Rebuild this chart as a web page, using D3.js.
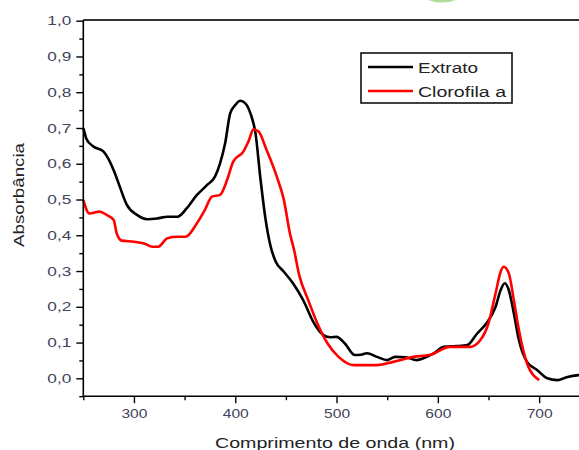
<!DOCTYPE html>
<html>
<head>
<meta charset="utf-8">
<script src="https://cdn.jsdelivr.net/npm/d3@7"></script>
<style>
  html, body { margin: 0; padding: 0; background: #fff; }
  svg { display: block; }
</style>
</head>
<body>
<svg id="chart" width="579" height="450"></svg>
<script>
// ---- Data ----
const extratoWl = [250, 251, 253, 260, 270, 280, 286, 293, 303, 313, 323, 333, 343, 352, 362, 372, 380, 385, 390, 395, 400, 405, 410, 415, 420, 425, 430, 435, 440, 448, 457, 467, 477, 487, 494, 500, 508, 518, 524, 530, 540, 550, 558, 568, 579, 596, 606, 618, 629, 639, 648, 657, 662, 666, 670, 675, 680, 688, 698, 708, 718, 728, 739, 745];
const extratoAbs = [0.70, 0.69, 0.67, 0.648, 0.634, 0.582, 0.536, 0.485, 0.457, 0.445, 0.447, 0.452, 0.452, 0.475, 0.512, 0.54, 0.564, 0.601, 0.657, 0.741, 0.764, 0.776, 0.769, 0.741, 0.685, 0.555, 0.443, 0.368, 0.326, 0.298, 0.266, 0.219, 0.158, 0.121, 0.115, 0.116, 0.098, 0.065, 0.066, 0.07, 0.06, 0.051, 0.06, 0.059, 0.051, 0.07, 0.088, 0.09, 0.093, 0.126, 0.154, 0.2, 0.247, 0.266, 0.247, 0.182, 0.107, 0.046, 0.023, 0.0, -0.005, 0.004, 0.009, 0.01];

const clorofilaWl = [250, 256, 266, 273, 280, 283, 288, 300, 310, 318, 324, 333, 343, 351, 362, 370, 377, 385, 392, 398, 408, 413, 418, 423, 431, 441, 448, 454, 458, 463, 472, 481, 491, 502, 517, 540, 556, 576, 592, 612, 632, 642, 650, 657, 662, 665, 670, 675, 680, 688, 700];
const clorofilaAbs = [0.499, 0.461, 0.466, 0.457, 0.443, 0.405, 0.385, 0.382, 0.377, 0.368, 0.368, 0.392, 0.396, 0.396, 0.433, 0.471, 0.508, 0.513, 0.555, 0.606, 0.634, 0.662, 0.696, 0.69, 0.638, 0.564, 0.499, 0.405, 0.36, 0.29, 0.219, 0.154, 0.098, 0.06, 0.037, 0.037, 0.046, 0.06, 0.065, 0.088, 0.088, 0.107, 0.154, 0.238, 0.298, 0.312, 0.294, 0.219, 0.135, 0.042, -0.005];

const xMajorTicks = [300, 400, 500, 600, 700];
const xMinorTicks = [250, 350, 450, 550, 650, 750];
const yMajorTicks = [0.0, 0.1, 0.2, 0.3, 0.4, 0.5, 0.6, 0.7, 0.8, 0.9, 1.0];
const yMinorTicks = [-0.05, 0.05, 0.15, 0.25, 0.35, 0.45, 0.55, 0.65, 0.75, 0.85, 0.95];
const seriesNames = ["Extrato", "Clorofila a"];
const xTitle = "Comprimento de onda (nm)";
const yTitle = "Absorbância";

// ---- Layout ----
const svg = d3.select("#chart");
const x = d3.scaleLinear().domain([250, 750]).range([83.3, 589.8]);
const y = d3.scaleLinear().domain([-0.05, 1.0]).range([396.2, 20.7]);

const labelColor = "#44445a";
const fmt = d => d3.format(".1f")(d).replace(".", ",");

// faint green arc at the top (background artifact)
svg.append("path")
  .attr("d", "M428,0 Q442,5 456,0 Z")
  .attr("fill", "#8fcf6a")
  .attr("opacity", 0.7);

// top frame line
svg.append("line")
  .attr("x1", x(250)).attr("x2", 579)
  .attr("y1", 20).attr("y2", 20)
  .attr("stroke", "#333").attr("stroke-width", 2);

// lines
const line = d3.line().curve(d3.curveMonotoneX).x(d => x(d[0])).y(d => y(d[1]));
const extrato = d3.zip(extratoWl, extratoAbs);
const clorofila = d3.zip(clorofilaWl, clorofilaAbs);

svg.append("path").datum(extrato)
  .attr("d", line).attr("fill", "none")
  .attr("stroke", "#000").attr("stroke-width", 2.6)
  .attr("stroke-linejoin", "round");
svg.append("path").datum(clorofila)
  .attr("d", line).attr("fill", "none")
  .attr("stroke", "#ff0000").attr("stroke-width", 2.6)
  .attr("stroke-linejoin", "round");

// X axis
const xAxisG = svg.append("g").attr("transform", `translate(0,${y(-0.05)})`);
xAxisG.call(d3.axisBottom(x).tickValues(xMajorTicks).tickSize(7).tickFormat(d3.format("d")));
xAxisG.append("g").call(d3.axisBottom(x).tickValues(xMinorTicks).tickSize(4).tickFormat(""))
  .select(".domain").remove();
xAxisG.selectAll(".domain").attr("d", `M${x(250)},0H579`).attr("stroke", "#000").attr("stroke-width", 1.6);
xAxisG.selectAll(".tick line").attr("stroke", "#000").attr("stroke-width", 1.4);
xAxisG.selectAll(".tick text")
  .attr("font-family", "Liberation Sans, Arial, sans-serif")
  .attr("font-size", 13.5).attr("fill", labelColor)
  .attr("dy", "0.9em")
  .attr("textLength", 26).attr("lengthAdjust", "spacingAndGlyphs");

// Y axis
const yAxisG = svg.append("g").attr("transform", `translate(${x(250)},0)`);
yAxisG.call(d3.axisLeft(y).tickValues(yMajorTicks).tickSize(7).tickFormat(fmt));
yAxisG.append("g").call(d3.axisLeft(y).tickValues(yMinorTicks).tickSize(4).tickFormat(""))
  .select(".domain").remove();
yAxisG.selectAll(".domain").attr("d", `M0,${y(-0.05)}V20`).attr("stroke", "#000").attr("stroke-width", 1.6);
yAxisG.selectAll(".tick line").attr("stroke", "#000").attr("stroke-width", 1.4);
yAxisG.selectAll(".tick text")
  .attr("font-family", "Liberation Sans, Arial, sans-serif")
  .attr("font-size", 13).attr("fill", labelColor)
  .attr("x", -12)
  .attr("textLength", 24).attr("lengthAdjust", "spacingAndGlyphs");

// Axis titles
svg.append("text")
  .attr("x", 335).attr("y", 448)
  .attr("text-anchor", "middle")
  .attr("font-family", "Liberation Sans, Arial, sans-serif")
  .attr("font-size", 15).attr("fill", "#222")
  .attr("textLength", 240).attr("lengthAdjust", "spacingAndGlyphs")
  .text(xTitle);

svg.append("text")
  .attr("transform", "translate(24,195) rotate(-90)")
  .attr("text-anchor", "middle")
  .attr("font-family", "Liberation Sans, Arial, sans-serif")
  .attr("font-size", 14).attr("fill", "#222")
  .attr("textLength", 104).attr("lengthAdjust", "spacingAndGlyphs")
  .text(yTitle);

// Legend
const legend = svg.append("g");
legend.append("rect")
  .attr("x", 361).attr("y", 53).attr("width", 151).attr("height", 50)
  .attr("fill", "#fff").attr("stroke", "#111").attr("stroke-width", 1.6);
const legendColors = ["#000", "#ff0000"];
const legendLens = [60, 88];
seriesNames.forEach((name, i) => {
  const yy = 67 + i * 24;
  legend.append("line")
    .attr("x1", 368).attr("x2", 413).attr("y1", yy).attr("y2", yy)
    .attr("stroke", legendColors[i]).attr("stroke-width", 2.6);
  legend.append("text")
    .attr("x", 418).attr("y", yy + 5.5)
    .attr("font-family", "Liberation Sans, Arial, sans-serif")
    .attr("font-size", 15.5).attr("fill", "#222")
    .attr("textLength", legendLens[i]).attr("lengthAdjust", "spacingAndGlyphs")
    .text(name);
});
</script>
</body>
</html>
